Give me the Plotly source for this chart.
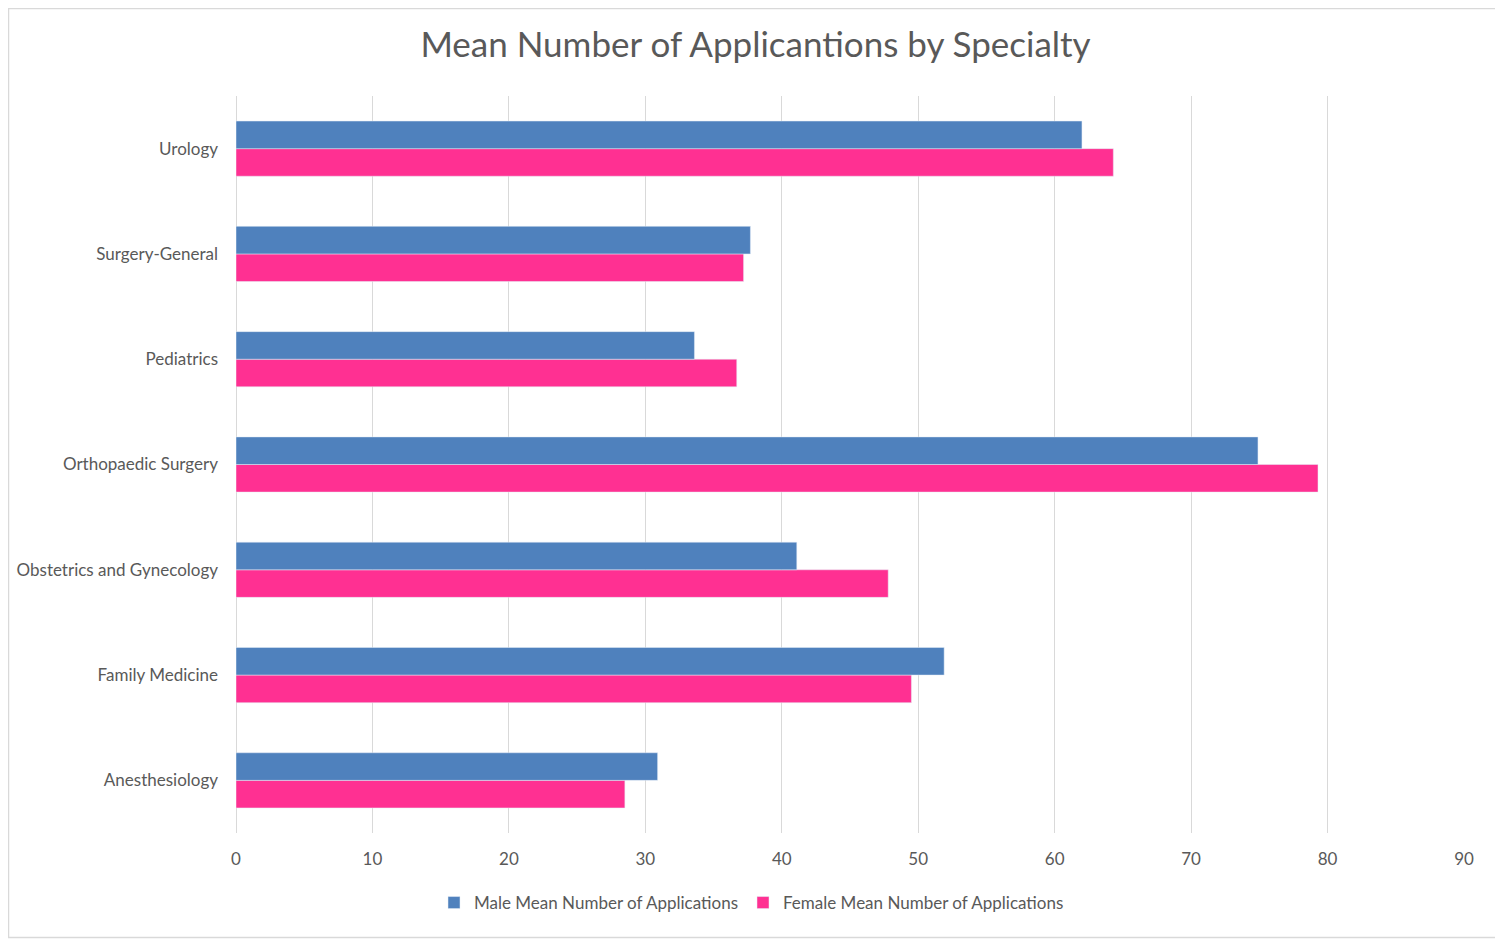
import plotly.graph_objects as go

specialties = ['Anesthesiology', 'Family Medicine', 'Obstetrics and Gynecology',
               'Orthopaedic Surgery', 'Pediatrics', 'Surgery-General', 'Urology']
male_mean = [30.9, 51.9, 41.1, 74.9, 33.6, 37.7, 62.0]
female_mean = [28.5, 49.5, 47.8, 79.3, 36.7, 37.2, 64.3]

font_name = 'Lato'
grey_text = '#595959'

# page body has an 8px margin, so the figure is a bit smaller than the window
W, H = 1495, 931
ml, mr, mt, mb = 228, 39, 88, 106
pw, ph = W - ml - mr, H - mt - mb

fig = go.Figure()
# female first so it sits below the male bar in each group
fig.add_trace(go.Bar(
    y=specialties, x=female_mean, orientation='h',
    name='Female Mean Number of Applications',
    marker_color='#FF3092', legendrank=2
))
fig.add_trace(go.Bar(
    y=specialties, x=male_mean, orientation='h',
    name='Male Mean Number of Applications',
    marker_color='#4F81BD', legendrank=1
))

fig.update_layout(
    width=W, height=H,
    barmode='group', bargap=0.476, bargroupgap=0,
    paper_bgcolor='white', plot_bgcolor='white',
    margin=dict(l=ml, r=mr, t=mt, b=mb, autoexpand=False),
    font=dict(family=font_name, size=17, color=grey_text),
    title=dict(text='Mean Number of Applicantions by Specialty',
               x=0.5, xanchor='center', y=1 - 37 / H, yanchor='middle',
               font=dict(family=font_name, size=35, color=grey_text)),
    legend=dict(orientation='h', x=(W / 2 - 4 - ml) / pw, xanchor='center',
                y=-70 / ph, yanchor='middle',
                font=dict(size=17, color=grey_text), itemwidth=30),
    showlegend=True,
)
fig.update_xaxes(range=[0, 90], dtick=10, showgrid=True, gridcolor='#D9D9D9', gridwidth=1,
                 zeroline=True, zerolinecolor='#D9D9D9', zerolinewidth=1,
                 showline=False, ticks='', tickfont=dict(size=17, color=grey_text),
                 ticklabelstandoff=14)
fig.update_yaxes(showgrid=False, showline=False, ticks='',
                 tickfont=dict(size=17, color=grey_text), ticklabelstandoff=17)

# thin border round the whole chart
fig.add_shape(type='rect', xref='paper', yref='paper',
              x0=-(ml - 0.5) / pw, x1=1 + (mr - 1.5) / pw,
              y0=-(mb - 1.5) / ph, y1=1 + (mt - 0.5) / ph,
              line=dict(color='#D9D9D9', width=1.5), layer='below')

fig.write_html('out.html')
